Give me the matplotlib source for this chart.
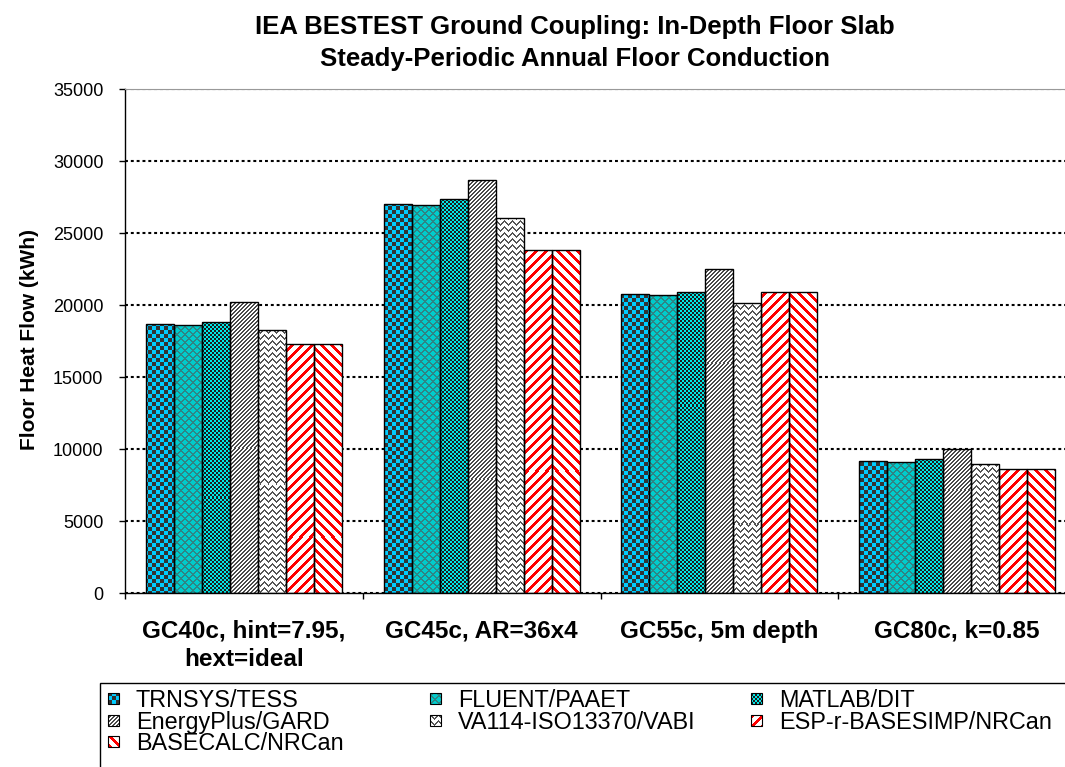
import numpy as np
import matplotlib
matplotlib.use('Agg')
import matplotlib.pyplot as plt
from matplotlib.patches import Rectangle
from matplotlib.image import BboxImage
from matplotlib.transforms import Bbox, TransformedBbox
from matplotlib.legend_handler import HandlerBase
from matplotlib.colors import to_rgb

plt.rcParams['font.family'] = ['Liberation Sans', 'DejaVu Sans']

# ---------------- data ----------------
categories = ['GC40c, hint=7.95,\nhext=ideal', 'GC45c, AR=36x4',
              'GC55c, 5m depth', 'GC80c, k=0.85']
series_names = ['TRNSYS/TESS', 'FLUENT/PAAET', 'MATLAB/DIT', 'EnergyPlus/GARD',
                'VA114-ISO13370/VABI', 'ESP-r-BASESIMP/NRCan', 'BASECALC/NRCan']
trnsys = [18700, 27050, 20800, 9200]
fluent = [18600, 26950, 20700, 9100]
matlab = [18850, 27350, 20950, 9300]
energyplus = [20250, 28700, 22550, 10050]
va114 = [18300, 26050, 20150, 8950]
espr = [17300, 23850, 20900, 8600]
basecalc = [17300, 23850, 20900, 8600]
yticks = [0, 5000, 10000, 15000, 20000, 25000, 30000, 35000]
title = 'IEA BESTEST Ground Coupling: In-Depth Floor Slab\nSteady-Periodic Annual Floor Conduction'
ylabel = 'Floor Heat Flow (kWh)'

series_values = [trnsys, fluent, matlab, energyplus, va114, espr, basecalc]


# ---------------- fill patterns (pixel based) ----------------
def p_trnsys(X, Y):
    return ((X // 4 + Y // 4) % 2) == 0

def p_fluent(X, Y):
    return ((X + Y) % 8 < 2) | ((X - Y) % 8 < 2)

def p_matlab(X, Y):
    return ((X // 2 + Y // 2) % 2) == 0

def p_eplus(X, Y):
    return ((X - Y) % 4) < 2

def p_va(X, Y):
    t = np.abs((X % 8) - 4)
    return ((Y - t) % 6) < 1.5

def p_espr(X, Y):
    return ((X - Y) % 10) < 4

def p_base(X, Y):
    return ((X + Y) % 10) < 4

patterns = [
    (p_trnsys, '#333333', '#00CCFF'),
    (p_fluent, '#2F8585', '#00CCCC'),
    (p_matlab, '#1C1C1C', '#00E8E8'),
    (p_eplus, '#4A4A4A', '#FFFFFF'),
    (p_va, '#555555', '#FFFFFF'),
    (p_espr, '#FF0000', '#FFFFFF'),
    (p_base, '#FF0000', '#FFFFFF'),
]


def render(XX, YY, pat):
    func, fg, bg = pat
    m = func(XX, YY)
    img = np.empty(XX.shape + (3,))
    img[:] = to_rgb(bg)
    img[m] = to_rgb(fg)
    return img


# ---------------- figure ----------------
W_PX, H_PX = 1065, 767
fig = plt.figure(figsize=(W_PX / 100, H_PX / 100), dpi=100)
ax_left, ax_right = 125 / W_PX, 1076 / W_PX
ax_bottom, ax_top = 1 - 593.3 / H_PX, 1 - 89.3 / H_PX
ax = fig.add_axes([ax_left, ax_bottom, ax_right - ax_left, ax_top - ax_bottom])
ax.set_xlim(-0.5, len(categories) - 0.5)
ax.set_ylim(0, 35000)

x = np.arange(len(categories))
bw = 0.1177
n = len(series_values)
inv = ax.transData.inverted()
for k, vals in enumerate(series_values):
    offs = (k - (n - 1) / 2) * bw
    bars = ax.bar(x + offs, vals, bw, color='white', edgecolor='none', zorder=2)
    for b in bars:
        bb = b.get_window_extent()
        px0, px1 = int(np.floor(bb.x0)), int(np.ceil(bb.x1))
        py0, py1 = int(np.floor(bb.y0)), int(np.ceil(bb.y1))
        Xs = px0 + np.arange(px1 - px0)
        Ys = py1 - 1 - np.arange(py1 - py0)
        XX, YY = np.meshgrid(Xs, Ys)
        img = render(XX, YY, patterns[k])
        (dx0, dy0), (dx1, dy1) = inv.transform([(px0, py0), (px1, py1)])
        im = ax.imshow(img, extent=[dx0, dx1, dy0, dy1], origin='upper', aspect='auto',
                       interpolation='none', zorder=2.5)
        im.set_clip_path(b)
    ax.bar(x + offs, vals, bw, fill=False, edgecolor='black', linewidth=1.0, zorder=3)

ax.set_xlim(-0.5, len(categories) - 0.5)
ax.set_ylim(0, 35000)

# grid
ax.set_yticks(yticks)
ax.set_yticklabels([str(v) for v in yticks])
ax.yaxis.grid(True, color='black', linestyle=(0, (1.4, 1.4)), linewidth=1.5)
ax.set_axisbelow(True)

# spines
ax.spines['right'].set_visible(False)
ax.spines['top'].set_color('#999999')
ax.spines['top'].set_linewidth(0.8)
ax.spines['left'].set_linewidth(1.0)
ax.spines['bottom'].set_linewidth(1.0)

# ticks
ax.tick_params(axis='y', direction='out', length=4.5, width=1, pad=11, labelsize=13)
ax.set_xticks(x)
ax.set_xticklabels(categories, fontsize=17.5, fontweight='bold', linespacing=1.3)
ax.set_xticks(np.arange(-0.5, len(categories)), minor=True)
ax.tick_params(axis='x', which='major', length=0, pad=19)
ax.tick_params(axis='x', which='minor', direction='out', length=4, width=1)

# title & y label
fig.text(575 / W_PX, 1 - 43 / H_PX, title, ha='center', va='center', fontsize=18.5,
         fontweight='bold', linespacing=1.38)
fig.text(30 / W_PX, 1 - 340 / H_PX, ylabel, rotation=90, ha='center', va='center',
         fontsize=15, fontweight='bold')


# ---------------- legend ----------------
class PatHandler(HandlerBase):
    def __init__(self, pat):
        super().__init__()
        self.pat = pat

    def create_artists(self, legend, orig_handle, xdescent, ydescent, width, height,
                       fontsize, trans):
        s = min(width, height)
        x0 = -xdescent
        y0 = -ydescent + (height - s) / 2
        npx = 11
        XX, YY = np.meshgrid(np.arange(npx), np.arange(npx)[::-1])
        img = render(XX, YY, self.pat)
        bb = TransformedBbox(Bbox.from_bounds(x0, y0, s, s), trans)
        im = BboxImage(bb, interpolation='nearest')
        im.set_data(img)
        rect = Rectangle((x0, y0), s, s, facecolor='none', edgecolor='black',
                         linewidth=0.8, transform=trans)
        return [im, rect]


handles = [Rectangle((0, 0), 1, 1) for _ in series_names]
hmap = {h: PatHandler(patterns[i]) for i, h in enumerate(handles)}
columns = [[0, 3, 6], [1, 4], [2, 5]]
col_x = [108, 430, 751]
for ci, idxs in enumerate(columns):
    leg = fig.legend([handles[i] for i in idxs], [series_names[i] for i in idxs],
                     handler_map=hmap, ncol=1, loc='upper left',
                     bbox_to_anchor=(col_x[ci] / W_PX, 1 - 689 / H_PX),
                     bbox_transform=fig.transFigure,
                     frameon=False, fontsize=16.8, handlelength=0.47, handleheight=0.47,
                     handletextpad=0.72, labelspacing=-0.06,
                     borderpad=0, borderaxespad=0)

fig.patches.append(Rectangle((100 / W_PX, -0.02), 1.0, (H_PX - 683) / H_PX + 0.02,
                             transform=fig.transFigure, fill=False, edgecolor='black',
                             linewidth=1.0))

fig.savefig('out.png', dpi=100)
